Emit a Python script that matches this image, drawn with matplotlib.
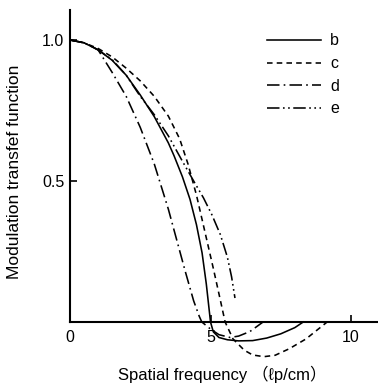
import numpy as np
import matplotlib
matplotlib.use("Agg")
import matplotlib.pyplot as plt

plt.rcParams['font.family'] = ['Liberation Sans', 'Noto Sans CJK JP', 'DejaVu Sans']
plt.rcParams['lines.scale_dashes'] = False

# curve b (solid)
b_x = [0, 0.5, 1.0, 1.5, 2.0, 2.5, 3.0, 3.5, 3.7, 4.0, 4.27, 4.5, 4.7, 4.85, 5.0,
       5.1, 5.3, 5.6, 6.0, 6.5, 7.0, 7.5, 8.0, 8.3]
b_y = [1.0, 0.99, 0.965, 0.928, 0.875, 0.805, 0.728, 0.635, 0.59, 0.515, 0.435, 0.345, 0.245, 0.135, 0.0,
       -0.035, -0.055, -0.063, -0.067, -0.066, -0.057, -0.042, -0.02, 0.0]

# curve c (dashed)
c_x = [0, 0.5, 1.0, 1.5, 2.0, 2.5, 3.0, 3.5, 3.9, 4.2, 4.5, 4.8, 5.1, 5.3, 5.52,
       5.8, 6.2, 6.5, 6.9, 7.3, 7.8, 8.4, 9.15]
c_y = [1.0, 0.99, 0.97, 0.94, 0.90, 0.855, 0.80, 0.73, 0.65, 0.56, 0.45, 0.32, 0.19, 0.10, 0.0,
       -0.06, -0.10, -0.117, -0.123, -0.118, -0.095, -0.06, 0.0]

# curve d (dash-dot)
d_x = [0, 0.5, 1.0, 1.5, 2.0, 2.5, 3.0, 3.5, 3.8, 4.1, 4.4, 4.6, 4.69,
       5.0, 5.3, 5.7, 6.0, 6.4, 6.87]
d_y = [1.0, 0.99, 0.965, 0.885, 0.80, 0.69, 0.56, 0.40, 0.29, 0.18, 0.075, 0.02, 0.0,
       -0.025, -0.045, -0.055, -0.05, -0.034, 0.0]

# curve e (dash-dot-dot)
e_x = [0, 0.5, 1.0, 1.5, 2.0, 2.5, 3.0, 3.5, 4.0, 4.4, 4.75, 5.05, 5.35, 5.6, 5.75, 5.87]
e_y = [1.0, 0.99, 0.965, 0.93, 0.875, 0.80, 0.735, 0.66, 0.57, 0.50, 0.44, 0.38, 0.31, 0.23, 0.16, 0.085]

xticks = [0, 5, 10]
yticks = [0.5, 1.0]
ytick_labels = ["0.5", "1.0"]

fig = plt.figure(figsize=(3.78, 3.85), dpi=100)
ax = fig.add_axes([70/378, 0.0538, 308/378, 0.920])

lw = 1.15
ax.plot(b_x, b_y, color='black', lw=lw, ls='-', label='b')
ax.plot(c_x, c_y, color='black', lw=lw, ls=(0, (4, 3)), label='c')
ax.plot(d_x, d_y, color='black', lw=lw, ls=(0, (9, 3, 1.2, 3)), label='d')
ax.plot(e_x, e_y, color='black', lw=lw, ls=(0, (9, 2.5, 1.2, 2.5, 1.2, 2.5)), label='e')

ax.set_xlim(0, 10.96)
ax.set_ylim(-0.15, 1.106)

for s in ['top', 'right']:
    ax.spines[s].set_visible(False)
ax.spines['bottom'].set_position(('data', 0))
ax.spines['left'].set_bounds(0, 1.106)
ax.spines['bottom'].set_linewidth(1.5)
ax.spines['left'].set_linewidth(1.5)

ax.set_xticks(xticks)
ax.set_xticklabels([str(t) for t in xticks])
ax.set_yticks(yticks)
ax.set_yticklabels(ytick_labels)
ax.tick_params(axis='x', direction='in', length=5, width=1.2, pad=6, labelsize=11.5)
ax.tick_params(axis='y', direction='in', length=5, width=1.2, pad=4, labelsize=11.5)

ax.legend(loc='upper left', bbox_to_anchor=(0.64, 0.934), frameon=False, fontsize=11.5,
          handlelength=3.4, handletextpad=0.55, labelspacing=0.48,
          borderpad=0, borderaxespad=0)

fig.text(222/378, 1 - 374/385, "Spatial frequency （ℓp/cm）", ha='center', va='center', fontsize=12)
fig.text(15/378, 1 - 171.5/385, "Modulation transfef function", ha='center', va='center',
         rotation=90, fontsize=12.5)

fig.savefig("out.png", dpi=100)
